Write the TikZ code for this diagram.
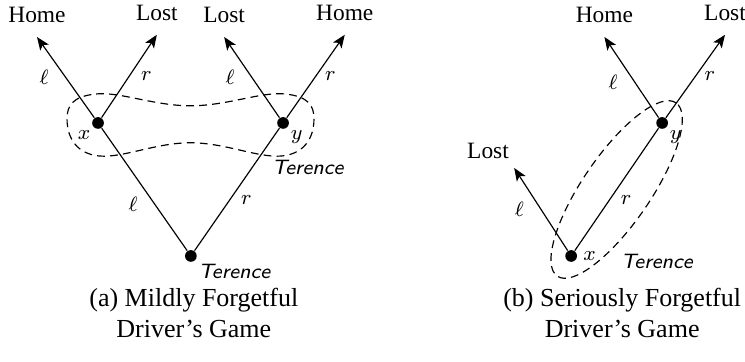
\documentclass[tikz,border=0pt]{standalone}
\usepackage{fontspec}
\setmainfont{Liberation Serif}
\usepackage{tikz}
\usetikzlibrary{arrows.meta, positioning, calc}

\tikzset{
  dot/.style={circle, fill, inner sep=0pt, minimum size=4.5pt},
  mv/.style={-{Stealth[length=5pt, width=4pt, inset=1.2pt]}},
  lbl/.style={font=\footnotesize},
  ter/.style={font=\footnotesize\sffamily\itshape},
  term/.style={font=\small, above=2pt},
  infoset/.style={dash pattern=on 3pt off 2pt},
}

\begin{document}
\begin{tikzpicture}[line width=0.45pt]
  \useasboundingbox (0,0) rectangle (10.07,4.88);
  % (a) Mildly forgetful driver
  \node[dot, label={[ter, xshift=-2.3pt, yshift=2pt]below right:Terence}] (R) at (2.58,1.42) {};
  \node[dot, label={[lbl, inner sep=1pt]below left:$x$}] (x) at (1.325,3.218) {};
  \node[dot, label={[lbl, inner sep=1pt]below right:$y$}] (y) at (3.826,3.218) {};
  \coordinate (xl) at (0.50,4.38);
  \coordinate (xr) at (2.12,4.41);
  \coordinate (yl) at (3.03,4.38);
  \coordinate (yr) at (4.66,4.41);
  \node[term] (homeA) at (xl) {Home};
  \node[term] (lostA) at (xr) {Lost};
  \node[term] (lostB) at (yl) {Lost};
  \node[term] (homeB) at (yr) {Home};
  \draw (R) -- node[lbl, pos=.38, left=3pt]{$\ell$} (x);
  \draw (R) -- node[lbl, pos=.41, right=1pt]{$r$} (y);
  \draw[mv] (x) -- node[lbl, left=3pt]{$\ell$} (xl);
  \draw[mv] (x) -- node[lbl, right=1pt]{$r$} (xr);
  \draw[mv] (y) -- node[lbl, left=3pt]{$\ell$} (yl);
  \draw[mv] (y) -- node[lbl, right]{$r$} (yr);
  % information set {x,y}
  \draw[infoset] plot[smooth cycle, tension=.7] coordinates {
    (0.906,3.285) (1.30,3.61) (2.575,3.45) (3.85,3.61)
    (4.244,3.285) (3.87,2.78) (2.575,2.95) (1.28,2.78)};
  \node[ter] (terA) at (4.16,2.62) {Terence};
  \node[align=center] (capA) at (2.62,0.65) {(a) Mildly Forgetful\\Driver's Game};

  % (b) Seriously forgetful driver
  \node[dot, label={[lbl, inner sep=2pt]right:$x$}] (x2) at (7.72,1.42) {};
  \node[dot, label={[lbl, inner sep=1pt]below right:$y$}] (y2) at (8.95,3.218) {};
  \coordinate (x2l) at (6.95,2.61);
  \coordinate (y2l) at (8.17,4.38);
  \coordinate (y2r) at (9.80,4.41);
  \node[term, above left=0pt and -1.5pt] (lostC) at (x2l) {Lost};
  \node[term] (homeC) at (y2l) {Home};
  \node[term] (lostD) at (y2r) {Lost};
  \draw (x2) -- node[lbl, pos=.41, right=1pt]{$r$} (y2);
  \draw[mv] (x2) -- node[lbl, left=3pt]{$\ell$} (x2l);
  \draw[mv] (y2) -- node[lbl, pos=.44, left=3pt]{$\ell$} (y2l);
  \draw[mv] (y2) -- node[lbl, right]{$r$} (y2r);
  % information set {x,y}
  \coordinate (c2) at ($(x2)!.5!(y2)$);
  \draw[infoset, rotate around={55.6:(c2)}] (c2) ellipse (1.42 and 0.46);
  \node[ter] (terB) at (8.88,1.34) {Terence};
  \node[align=center] (capB) at (8.41,0.65) {(b) Seriously Forgetful\\Driver's Game};
\end{tikzpicture}
\end{document}
